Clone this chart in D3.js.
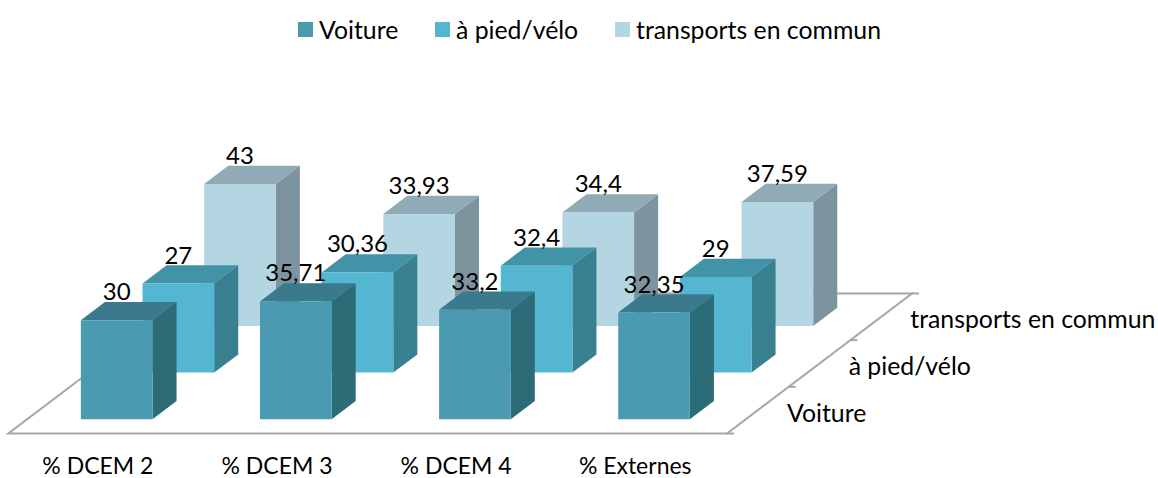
<!DOCTYPE html>
<html>
<head>
<meta charset="utf-8">
<script src="https://cdn.jsdelivr.net/npm/d3@7"></script>
<style>
    html, body { margin: 0; padding: 0; background: #fff; }
    text { font-family: Lato, sans-serif; fill: #000; }
    .series-label { font-size: 24.8px; }
    .value-label { font-size: 24px; }
    .category-label { font-size: 23px; }
</style>
</head>
<body>
<svg id="chart" width="1158" height="478"></svg>
<script>
// Chart data
const categories = ['% DCEM 2', '% DCEM 3', '% DCEM 4', '% Externes'];
const seriesNames = ['Voiture', 'à pied/vélo', 'transports en commun'];
const voiture = [30, 35.71, 33.2, 32.35];
const aPiedVelo = [27, 30.36, 32.4, 29];
const transports = [43, 33.93, 34.4, 37.59];
const seriesValues = [voiture, aPiedVelo, transports];

// front, top, side
const seriesColors = [
    ['#4a9bb2', '#3a7a8c', '#2c6c77'],
    ['#54b6d0', '#4293a8', '#38808f'],
    ['#b3d6e2', '#90abb5', '#7d949f']
];

const svg = d3.select('#chart');

// Floor corner and oblique direction of the depth axis
const originX = 8.3;
const originY = 433.5;
const floorWidth = 718.7;
const floorDepth = 140;
const skew = 185 / 140;

const xScale = d3.scaleBand()
    .domain(categories)
    .range([0, 716.5])
    .paddingInner(0.6)
    .paddingOuter(0.3);

const depthScale = d3.scaleBand()
    .domain(seriesNames)
    .range([0, floorDepth])
    .paddingInner(0.61)
    .paddingOuter(0.305);

const heightScale = d3.scaleLinear().domain([0, 50]).range([0, 165]);

// u along the categories, v into the depth, h upwards
function project(u, v, h) {
    return [originX + u + v * skew, originY - v - h];
}

const polygon = d3.line();

// Floor outline
const floorColor = '#a6a6a6';
const floor = svg.append('g');
floor.append('path')
    .attr('d', polygon([
        project(0, floorDepth, 0),
        project(0, 0, 0),
        project(floorWidth, 0, 0),
        project(floorWidth, floorDepth, 0),
        project(0, floorDepth, 0)
    ]))
    .attr('fill', 'none')
    .attr('stroke', floorColor)
    .attr('stroke-width', 2);

// Depth axis ticks
const depthTicks = d3.range(seriesNames.length + 1).map(i => i * depthScale.step());
floor.selectAll('.depth-tick')
    .data(depthTicks)
    .enter()
    .append('line')
    .attr('class', 'depth-tick')
    .attr('x1', d => project(floorWidth, d, 0)[0])
    .attr('x2', d => project(floorWidth, d, 0)[0] + 7)
    .attr('y1', d => project(floorWidth, d, 0)[1])
    .attr('y2', d => project(floorWidth, d, 0)[1])
    .attr('stroke', floorColor)
    .attr('stroke-width', 2);

// Bars, back row first so the front rows cover them
const barWidth = xScale.bandwidth();
const barDepth = depthScale.bandwidth();

d3.range(seriesNames.length).reverse().forEach(s => {
    const v0 = depthScale(seriesNames[s]);
    const v1 = v0 + barDepth;
    const bars = svg.append('g')
        .selectAll('g')
        .data(categories.map((c, i) => ({ category: c, value: seriesValues[s][i] })))
        .enter()
        .append('g');

    bars.append('path')
        .attr('fill', seriesColors[s][2])
        .attr('d', d => {
            const u = xScale(d.category) + barWidth;
            const h = heightScale(d.value);
            return polygon([project(u, v0, 0), project(u, v1, 0), project(u, v1, h), project(u, v0, h)]) + 'Z';
        });

    bars.append('path')
        .attr('fill', seriesColors[s][1])
        .attr('d', d => {
            const u = xScale(d.category);
            const h = heightScale(d.value);
            return polygon([project(u, v0, h), project(u + barWidth, v0, h), project(u + barWidth, v1, h), project(u, v1, h)]) + 'Z';
        });

    bars.append('path')
        .attr('fill', seriesColors[s][0])
        .attr('d', d => {
            const u = xScale(d.category);
            const h = heightScale(d.value);
            return polygon([project(u, v0, 0), project(u + barWidth, v0, 0), project(u + barWidth, v0, h), project(u, v0, h)]) + 'Z';
        });
});

// Value labels stay above every bar
seriesNames.forEach((name, s) => {
    svg.append('g')
        .selectAll('text')
        .data(categories.map((c, i) => ({ category: c, value: seriesValues[s][i] })))
        .enter()
        .append('text')
        .attr('class', 'value-label')
        .attr('text-anchor', 'middle')
        .attr('x', d => project(xScale(d.category) + barWidth / 2, depthScale(name), 0)[0])
        .attr('y', d => project(0, depthScale(name), heightScale(d.value))[1] - 20)
        .text(d => String(d.value).replace('.', ','));
});

// Category labels
svg.append('g')
    .selectAll('text')
    .data(categories)
    .enter()
    .append('text')
    .attr('class', 'category-label')
    .attr('text-anchor', 'middle')
    .attr('x', d => originX + xScale(d) + barWidth / 2)
    .attr('y', 473.5)
    .text(d => d);

// Series labels along the depth axis
svg.append('g')
    .selectAll('text')
    .data(seriesNames)
    .enter()
    .append('text')
    .attr('class', 'series-label')
    .attr('x', (d, i) => project(floorWidth, depthTicks[i], 0)[0] + 60)
    .attr('y', (d, i) => project(floorWidth, depthTicks[i], 0)[1] - 12)
    .text(d => d);

// Legend
const legendSwatchX = [298, 435, 615];
const legend = svg.append('g')
    .selectAll('g')
    .data(seriesNames)
    .enter()
    .append('g')
    .attr('transform', (d, i) => `translate(${legendSwatchX[i]},0)`);

legend.append('rect')
    .attr('y', 22)
    .attr('width', 15)
    .attr('height', 15)
    .attr('fill', (d, i) => seriesColors[i][0]);

legend.append('text')
    .attr('class', 'series-label')
    .attr('x', 21)
    .attr('y', 39)
    .text(d => d);
</script>
</body>
</html>
